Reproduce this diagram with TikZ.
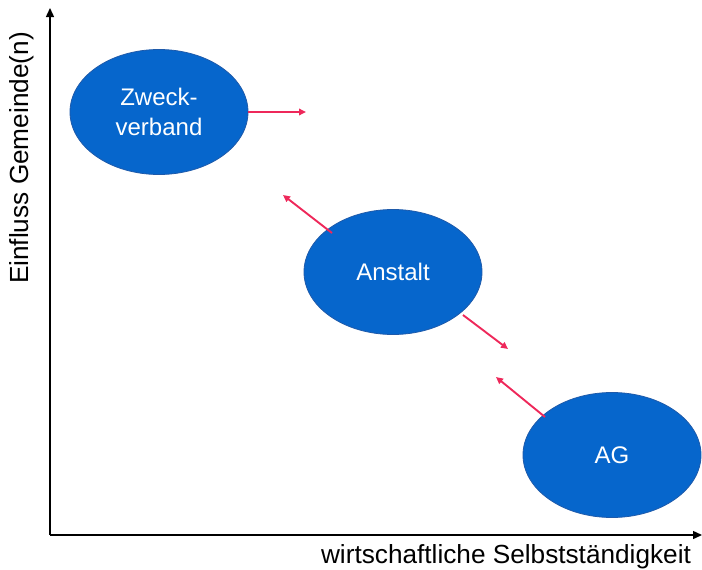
\documentclass[tikz,border=0pt]{standalone}
\usepackage{fontspec}
\setmainfont{Liberation Sans}
\usetikzlibrary{shapes.geometric,arrows.meta}
\definecolor{blobfill}{RGB}{6,102,204}
\definecolor{blobedge}{RGB}{30,90,170}
\definecolor{shift}{RGB}{238,40,90}
\tikzset{
  blob/.style={ellipse, fill=blobfill, draw=blobedge, line width=0.8pt,
    minimum width=178pt, minimum height=125pt, inner sep=0pt,
    text=white, font=\fontsize{24}{30}\selectfont, align=center},
  axis/.style={line width=1.4pt, -{Triangle[length=9pt,width=8pt]}},
  move/.style={draw=shift, line width=1.9pt, -{Triangle[length=7pt,width=6.5pt]}},
  axlabel/.style={font=\fontsize{26.2}{30}\selectfont, text=black, inner sep=0pt}
}
\begin{document}
\begin{tikzpicture}[x=1pt,y=-1pt]
  \useasboundingbox (0,0) rectangle (702,570);
  % axes
  \coordinate (origin) at (50,535);
  \coordinate (ytop) at (50,8);
  \coordinate (xend) at (702,535);
  \draw[axis] (origin) -- (ytop);
  \draw[axis] (origin) -- (xend);
  \node[axlabel, rotate=90] (ylab) at (22,158) {Einfluss Gemeinde(n)};
  \node[axlabel] (xlab) at (506,557) {wirtschaftliche Selbstständigkeit};
  % organisational forms
  \node[blob] (zv) at (159,112) {Zweck-\\verband};
  \node[blob] (an) at (393,272) {Anstalt};
  \node[blob] (ag) at (612,455) {AG};
  % directions of change
  \coordinate (zvto) at (306,112);
  \coordinate (anup) at (283,195);
  \coordinate (andown) at (508,349);
  \coordinate (agup) at (496,377);
  \draw[move] (zv.east) -- (zvto);
  \draw[move] (an) ++(-61,-39) coordinate (anA) (anA) -- (anup);
  \draw[move] (an) ++(70,43) coordinate (anB) (anB) -- (andown);
  \draw[move] (ag) ++(-67,-38) coordinate (agA) (agA) -- (agup);
\end{tikzpicture}
\end{document}
